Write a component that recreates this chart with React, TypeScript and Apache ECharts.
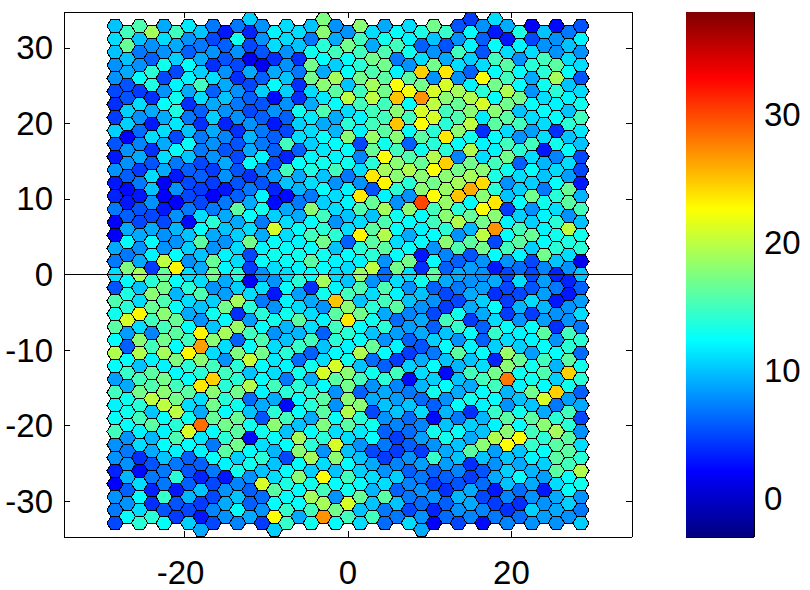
import React, { useEffect, useRef } from "react";
import * as echarts from "echarts";

// Values per hexagon row, top to bottom. Odd rows hold even columns, even rows hold odd columns.
const L0cols = [11, 17, 29, 31];
const L0 = [10.5, 17.5, 4.5, 11];
const L1 = [10,15.5,9,11.5,7,7,8,11,10,8,18,9,11,17,5.5,8,9,2,2.5,5.5];
const L2 = [15,19,15,10,3,3.5,12,11,18,8,11,12.5,13.5,14.5,12.5,3,13.5,10,7];
const L3 = [11,10,11,8,5,13,8,11,7,9,15,13,12,10,8,6,3,5,8,12];
const L4 = [16.5,8,9,7,6,5,11,10,14,17,9,15,6,5.5,12,12.5,12,8,10];
const L5 = [10,7,8,6,8,8,5.5,8,13,15,15,15.5,13,8,15,5.5,11,11,8,8];
const L6 = [10,6,10.5,9,5.5,1.5,4,4,12.5,12.5,17,7,11,9,10.5,15,8,15,11];
const L7 = [8,8,13,12.5,4,5,1.5,8,17,10.5,14,17,8,17,11,11,16,14,16,11];
const L8 = [9,14,5,10.5,8,9,9,7,9,12.5,15.5,12,24.5,23.5,6,12.5,12.5,14,12.5];
const L9 = [8,12.5,5,12,11,4,6,10,17,19,17,16,16,8,8,22.5,15,9,19,5.5];
const L10 = [5.5,13.5,12,15,9,5,12.5,4,18,10,19,22.5,17,21,12,17,12.5,13,10];
const L11 = [5,4.5,8,9,6,8,10.5,10.5,11,16,15,17,22,21,19,14,19.5,8,14,11];
const L12 = [5.5,4,13,11,10,6,2.5,4,11.5,20,20,25,27,18,19.5,12.5,17,11,12];
const L13 = [4,11,12.5,4,9,7,5.5,8,9,12.5,15,15,12.5,20,16.5,21,17,12.5,12,13];
const L14 = [10.5,9,13.5,6,8,5,8,13,15.5,11,15,18,21,15,18,18,10,12.5,10];
const L15 = [4.5,8,9,7,10.5,8,6,6,11.5,9,12,15,15,21,15.5,11.5,16,11,12.5,15];
const L16 = [10.5,3,11.5,4,3.5,8,3,10.5,9,14,15,25,22.5,14,20,16,15,11,14];
const L17 = [10.5,6.5,11,10,9,4,7,5,11,9.5,12,16,12.5,14,18,4,11,8.5,4,11.5];
const L18 = [2,11,5,7,7.5,9.5,6,11,12.5,18,18.5,18,16,23.5,13,12.5,8,11,10];
const L19 = [5.5,7.5,9,12.5,8,5.5,7,15,10.5,12.5,5,13,6,14,12.5,12,15,15,13,10];
const L20 = [8,4,12.5,7,5.5,9,6,6,11.5,12.5,16.5,15,13,14,19.5,12,14,3,12.5];
const L21 = [3,9,11,10,8,5,12,3.5,12,12,7.5,22.5,15.5,19.5,7.5,11,17,11,7.5,5];
const L22 = [8,5.5,7,5,9,12.5,5,12.5,13,13,14,18,16.5,24.5,17,15,6,9.5,11];
const L23 = [8,4.5,9,6,4.5,5.5,7.5,15,13.5,15,11,19,19.5,22.5,17,18,13,12.5,11,5];
const L24 = [6,11,3,6,8,4,8.5,9,10,7,23.5,18,18,18,19,13.5,11,10,8.5];
const L25 = [3,7,2,5,4.5,5.5,5.5,10,11,8,8,23,14,17,19,24,8,10.5,12.5,3];
const L26 = [2.5,10,8,4.5,3,7,3.5,9.5,12.5,12,5.5,14,18,18.5,26,14,10.5,7,16.5];
const L27 = [3.5,3,2,5,2,6,12,2.5,7,11,23.5,12,8,22.5,25,18,10,17,14,9.5];
const L28 = [3,8,2,5,7,9,2.5,7,10.5,12,16.5,8,30,18.5,12.5,23.5,12.5,13,16];
const L29 = [7,5.5,3,7,7,16,13,9,18,11,15.5,19,18,15,14,22.5,4.5,8,11,15];
const L30 = [6,5,8,11,9,12.5,10.5,9,15,10,10,13,12.5,18,16.5,18,10.5,12,8];
const L31 = [2,5,5,2.5,14,9,7,11,12.5,8,11,15.5,12.5,15,19.5,17,12,10.5,14,10];
const L32 = [9,9,9.5,12.5,10,11,21,12.5,14,11,16,12.5,12,14,9.5,27,15,12,20];
const L33 = [2,9,8,10,9,10.5,9,11,15,14,23,19.5,9,12.5,8,20,12.5,16.5,13,13];
const L34 = [12.5,12.5,8,16,8,17,12.5,12,17,6,16,11,12.5,18,16,5,16,12.5,13.5];
const L35 = [9,8,8,10.5,8,11,12,12.5,12.5,10,14,16,12.5,8,15.5,17,15,10.5,14,14];
const L36 = [7,12,12.5,10,12,5,13,13,13,12.5,14,12.5,3,7.5,5.5,12.5,12,17,11];
const L37 = [7,9,20,8,16.5,11,12.5,12.5,16,12,12,8,17,12.5,6,8,8,5,10,1.5];
const L38 = [17.5,4.5,23,9,12,4.5,11,12,12.5,11,20,17,4,6,8.5,3,6.5,7.5,8];
const L39 = [11,19,16.5,11,17,14,8,11,12.5,11,18.5,6.5,11,16,9,8,5,5,3.5,10];
const L40 = [12.5,14,12.5,11,9,2,8,14,19,10,8,11,13,9,8,9,11,8.5,3.5];
const L41 = [5.5,10,17,14,8,10.5,11,12.5,4,12,15.5,15.5,8,6,7,8.5,5,5.5,7,6];
const L42 = [13.5,18,9.5,15.5,8.5,11,3,8.5,13,15,11,12,10,5,9,4,5,8.5,3];
const L43 = [15.5,11,15.5,11,10.5,19,7,12,9,25,10,15,10,8,5,10.5,4.5,11,3,8.5];
const L44 = [14,16.5,12.5,10,17,14,8,11,8,18,14,16,8,4.5,9,12.5,9.5,9.5,8];
const L45 = [13,23,18,9,13,4,14,13,11,16,17,9,7.5,5,13,9,4.5,4.5,8,11];
const L46 = [21,15,16.5,8,12.5,8.5,13,16,12,23.5,13,6.5,9,15,4.5,11,8,8.5,8];
const L47 = [16,11,15,12.5,10,18.5,12.5,9.5,11,15,12.5,14,8.5,6,14.5,6,12.5,12.5,4,7];
const L48 = [8.5,7.5,16,23,19,15,8,9.5,6,14,10,8.5,9,10,12.5,14.5,12,16,15];
const L49 = [12.5,18,17,15,18,6,15.5,10,15,14,12.5,8,6,10.5,8,6,11,12,8,14];
const L50 = [6,15,12.5,26.5,11,12.5,11,14.5,10,12,16.5,12,5.5,12.5,12,10.5,10.5,12.5,14];
const L51 = [19.5,19.5,19,23,11,17.5,17,14,6,12.5,19.5,12.5,4.5,7,16,12.5,18.5,8.5,12.5,6.5];
const L52 = [12.5,12,17.5,18,8,20.5,11.5,6.5,11,13,6.5,4.5,9,10,10,3.5,16.5,15,16];
const L53 = [12.5,10,12,14,15,14,12.5,12,13,21,10,6,10.5,12.5,9.5,11,18,13,9.5,13];
const L54 = [14.5,16,12.5,14,15,10,11,13,21,18,13,15,11,2.5,15,17,13,15.5,24.5];
const L55 = [8.5,15,17,12.5,24.5,14,12.5,7,9,16,15,14,2.5,10.5,10,15,28,13,10.5,14];
const L56 = [9,15.5,15,23.5,14,19.5,15,14,12.5,17,8,7.5,9.5,12.5,9,15,12,12.5,13];
const L57 = [15,17,18,16,18,17,12,14,14,8,6,9,7,13,9,12.5,9.5,17,24.5,6];
const L58 = [13,20,17,11,14,6.5,9,12.5,16,18,9,8.5,6.5,8,13,12.5,10,21,8.5];
const L59 = [12,14,20,11,17,13,9,2.5,14,8,18,10,10,6,12.5,12,8,10,7,9];
const L60 = [13,10,20,9,12.5,10,14,12.5,16,19.5,5,10,11,9.5,4,14.5,13,9,15];
const L61 = [12.5,15,12.5,13,16.5,16.5,5.5,15,9,12.5,14,8,6.5,2.5,7,9.5,16,16,14,5];
const L62 = [12.5,16,14,28.5,17,13,18,10,17.5,16,13,7.5,7.5,10,10.5,12,12.5,18,14];
const L63 = [15,12,12,21,12.5,16,13,10,12.5,11,11.5,6,6.5,13,12.5,10,18,15,19,8];
const L64 = [8,9.5,15.5,11.5,14,2.5,12.5,19,14,11,12.5,4.5,8.5,13,9,19.5,22.5,14,16];
const L65 = [8,11,12.5,12.5,7,17,11,12.5,14,21,8,7,6,8,10,18,22.5,14.5,16,11];
const L66 = [7,9,12,12,16,12.5,9.5,18,8,10,5,4.5,4.5,9,16,8.5,10,12.5,16];
const L67 = [8,4,10,6,12.5,10.5,14,5,19,18,10,4.5,8,14.5,10,10,10,12,16,14];
const L68 = [8,5.5,7,6,12,13,10,12.5,11,12.5,9,7.5,8.5,8.5,4,8,9,10.5,15];
const L69 = [3.5,2.5,7,5.5,7,13,10,12.5,10.5,10,10.5,8,6,6,7.5,5.5,10.5,9.5,16,19.5];
const L70 = [9.5,7,14,3.5,3,8,11,18,22.5,15,11,10.5,7,6,4.5,9,12.5,8.5,12.5];
const L71 = [2,11,7,6,5,7.5,21,13.5,13,12.5,12.5,11,7.5,4.5,5.5,6.5,10,9,11,13];
const L72 = [6,3.5,3,10,8,6,16,12.5,15,13,9.5,6,8,4,9,3,6.5,3,12.5];
const L73 = [8,12.5,14.5,9.5,5,10,6.5,12.5,19,8,16.5,16,7,8,9.5,5,7.5,8,9,8];
const L74 = [8,4,5.5,4.5,9,6,12.5,12.5,19,21,10,10,6.5,6,9,4.5,4,8,10.5];
const L75 = [7,11,5.5,5,7.5,12.5,8,14.5,15,17,10,7,5,3.5,8,7.5,4,10.5,9,7];
const L76 = [12.5,14,4.5,3,8,9,22.5,9,27,15,15,7,8,6.5,7.5,7,6.5,8.5,8];
const L77 = [5,14,12.5,10.5,5,7.5,4.5,14.5,13,12.5,11,6.5,11,2,5,2.5,7.5,8,8,10.5];
const L78cols = [7, 13, 25];
const L78 = [9, 10.5, 9];

const middleRows = [L1,L2,L3,L4,L5,L6,L7,L8,L9,L10,L11,L12,L13,L14,L15,L16,L17,L18,L19,L20,L21,L22,L23,L24,L25,L26,L27,L28,L29,L30,L31,L32,L33,L34,L35,L36,L37,L38,L39,L40,L41,L42,L43,L44,L45,L46,L47,L48,L49,L50,L51,L52,L53,L54,L55,L56,L57,L58,L59,L60,L61,L62,L63,L64,L65,L66,L67,L68,L69,L70,L71,L72,L73,L74,L75,L76,L77];

const xTicks = [-20, 0, 20];
const yTicks = [-30, -20, -10, 0, 10, 20, 30];
const barTicks = [0, 10, 20, 30];
const jet = ["#00007f","#0000ff","#007fff","#00ffff","#7fff7f","#ffff00","#ff7f00","#ff0000","#7f0000"];
const FONT = "'Liberation Sans', Arial, sans-serif";
const FONT_SIZE = 33;
const H = Math.sqrt(3) / 2;

function buildCells() {
  const cells: number[][] = [];
  const place = (col: number, level: number, v: number) =>
    cells.push([-28.5 + 1.5 * col, H * (39 - level), v]);
  L0.forEach((v, i) => place(L0cols[i], 0, v));
  middleRows.forEach((row, r) => {
    const level = r + 1;
    row.forEach((v, i) => place(2 * i + (level % 2 === 1 ? 0 : 1), level, v));
  });
  L78.forEach((v, i) => place(L78cols[i], 78, v));
  return cells;
}

const hexCorners = [[-1,0],[-0.5,H],[0.5,H],[1,0],[0.5,-H],[-0.5,-H]];

export default function App() {
  const ref = useRef<HTMLDivElement>(null);
  useEffect(() => {
    const chart = echarts.init(ref.current!, null, { renderer: "svg" });
    const tick = { show: true, inside: true, length: 6, lineStyle: { color: "#000", width: 1 } };
    const line = { show: true, onZero: false, lineStyle: { color: "#000", width: 1 } };
    const label = { show: true, color: "#000", fontSize: FONT_SIZE, fontFamily: FONT };
    const off = { show: false };
    const mainX = { type: "value", gridIndex: 0, min: -34.75, max: 34.75, splitLine: off, axisLine: line };
    const mainY = { type: "value", gridIndex: 0, min: -34.75, max: 34.75, splitLine: off, axisLine: line };
    const barY = { type: "value", gridIndex: 1, min: -3, max: 38, splitLine: off, axisLine: line };
    chart.setOption({
      animation: false,
      backgroundColor: "#fff",
      grid: [
        { left: 64, top: 12, width: 568, height: 525 },
        { left: 686, top: 12, width: 68, height: 525 },
      ],
      visualMap: { show: false, seriesIndex: 0, dimension: 2, min: -3, max: 38, inRange: { color: jet } },
      xAxis: [
        { ...mainX, position: "bottom", axisTick: { ...tick, customValues: xTicks },
          axisLabel: { ...label, customValues: xTicks, margin: 22, lineHeight: 26,
            formatter: (v: number) => (v < 0 ? `{n|${v}}` : String(v)),
            rich: { n: { color: "#000", fontSize: FONT_SIZE, fontFamily: FONT, lineHeight: 26, padding: [0, 8, 0, 0] } } } },
        { ...mainX, position: "top", axisTick: { ...tick, customValues: xTicks }, axisLabel: off },
        { type: "value", gridIndex: 1, min: 0, max: 1, position: "bottom", splitLine: off, axisLine: line, axisTick: off, axisLabel: off },
        { type: "value", gridIndex: 1, min: 0, max: 1, position: "top", splitLine: off, axisLine: line, axisTick: off, axisLabel: off },
      ],
      yAxis: [
        { ...mainY, position: "left", axisTick: { ...tick, customValues: yTicks },
          axisLabel: { ...label, customValues: yTicks, margin: 11, formatter: (v: number) => String(v) } },
        { ...mainY, position: "right", axisTick: { ...tick, customValues: yTicks }, axisLabel: off },
        { ...barY, position: "left", axisTick: { ...tick, customValues: barTicks }, axisLabel: off },
        { ...barY, position: "right", axisTick: { ...tick, customValues: barTicks },
          axisLabel: { ...label, customValues: barTicks, margin: 10, formatter: (v: number) => String(v) } },
      ],
      series: [
        {
          type: "custom",
          coordinateSystem: "cartesian2d",
          xAxisIndex: 0,
          yAxisIndex: 0,
          data: buildCells(),
          clip: false,
          silent: true,
          encode: { x: 0, y: 1 },
          renderItem: (_: any, api: any) => {
            const x = api.value(0);
            const y = api.value(1);
            return {
              type: "polygon",
              shape: { points: hexCorners.map(([dx, dy]) => api.coord([x + dx, y + dy])) },
              style: { fill: api.visual("color"), stroke: "#000", lineWidth: 1 },
            };
          },
          markLine: {
            silent: true,
            symbol: "none",
            label: { show: false },
            lineStyle: { color: "#000", width: 1, type: "solid" },
            data: [{ yAxis: 0 }],
          },
        },
        {
          type: "custom",
          coordinateSystem: "cartesian2d",
          xAxisIndex: 2,
          yAxisIndex: 2,
          data: [[0, -3, 1, 38]],
          silent: true,
          renderItem: (_: any, api: any) => {
            const a = api.coord([api.value(0), api.value(1)]);
            const b = api.coord([api.value(2), api.value(3)]);
            return {
              type: "rect",
              shape: { x: a[0], y: b[1], width: b[0] - a[0], height: a[1] - b[1] },
              style: {
                fill: new echarts.graphic.LinearGradient(0, 1, 0, 0,
                  jet.map((color, i) => ({ offset: i / (jet.length - 1), color }))),
              },
            };
          },
        },
      ],
    });
    return () => chart.dispose();
  }, []);
  return (
    <div
      ref={ref}
      style={{ position: "fixed", left: 0, top: 0, width: 810, height: 590, shapeRendering: "crispEdges" }}
    />
  );
}
